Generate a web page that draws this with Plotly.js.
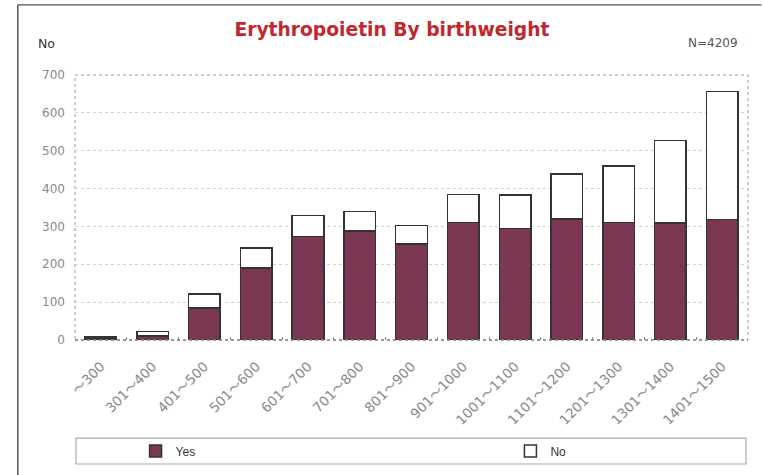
<!DOCTYPE html>
<html>
<head>
<meta charset="utf-8">
<script src="https://cdn.plot.ly/plotly-3.0.1.min.js"></script>
<style>html,body{margin:0;padding:0;background:#fff;}#chart{width:764px;height:475px;}</style>
</head>
<body>
<div id="chart"></div>
<script>
const categories = ["～300","301～400","401～500","501～600","601～700","701～800","801～900","901～1000","1001～1100","1101～1200","1201～1300","1301～1400","1401～1500"];
const yesValues = [5, 11, 84, 190, 274, 288, 253, 311, 294, 319, 311, 309, 318];
const noValues  = [3, 11, 38, 53, 55, 52, 50, 74, 89, 120, 148, 218, 338];
const yTicks = [0, 100, 200, 300, 400, 500, 600, 700];

const barLine = {color: '#333333', width: 1.5};
const traces = [
  {type: 'bar', name: 'Yes', x: categories, y: yesValues, marker: {color: '#7a3652', line: barLine}, width: 0.61, legend: 'legend'},
  {type: 'bar', name: 'No', x: categories, y: noValues, marker: {color: '#ffffff', line: barLine}, width: 0.61, legend: 'legend2'}
];

const legendFont = {family: 'Liberation Sans Narrow, Liberation Sans, sans-serif', size: 12, color: '#333'};
const layout = {
  width: 764, height: 475,
  margin: {l: 75, r: 16, t: 75, b: 135, autoexpand: false},
  paper_bgcolor: '#ffffff', plot_bgcolor: '#ffffff',
  barmode: 'stack',
  showlegend: true,
  font: {family: 'DejaVu Sans, Verdana, sans-serif', size: 11, color: '#777'},
  title: {text: 'Erythropoietin By birthweight', x: 0.513, xanchor: 'center', y: 0.937, yanchor: 'middle',
          font: {family: 'DejaVu Sans, Verdana, sans-serif', size: 18.7, color: '#c0282e', weight: 'bold'}},
  xaxis: {
    type: 'category', tickangle: -45, showgrid: false, zeroline: false, automargin: false,
    ticks: 'inside', tickson: 'boundaries', ticklen: 3, tickcolor: '#888',
    showline: false, ticklabelstandoff: 15,
    tickfont: {family: 'DejaVu Sans, Noto Sans CJK JP, sans-serif', size: 13.5, color: '#888'}
  },
  yaxis: {
    range: [0, 700], tickvals: yTicks, ticks: '', ticklabelstandoff: 9, automargin: false,
    showgrid: true, gridcolor: '#d8d4b0', griddash: 'dot', gridwidth: 1,
    zeroline: false, showline: false,
    tickfont: {family: 'DejaVu Sans, Verdana, sans-serif', size: 12, color: '#888'}
  },
  legend: {
    orientation: 'h', x: 0.09, xanchor: 'left', y: -0.419, yanchor: 'middle',
    bgcolor: 'rgba(0,0,0,0)', borderwidth: 0, font: legendFont,
    itemclick: false, itemdoubleclick: false
  },
  legend2: {
    orientation: 'h', x: 0.647, xanchor: 'left', y: -0.419, yanchor: 'middle',
    bgcolor: 'rgba(0,0,0,0)', borderwidth: 0, font: legendFont,
    itemclick: false, itemdoubleclick: false
  },
  shapes: [
    {type: 'rect', xref: 'paper', yref: 'paper', x0: 0, x1: 1, y0: 0, y1: 1,
     line: {color: '#999', width: 1, dash: 'dot'}, layer: 'below'},
    {type: 'line', xref: 'paper', yref: 'paper', x0: 0, x1: 1, y0: 0, y1: 0,
     line: {color: '#888', width: 1.5, dash: 'dot'}, layer: 'above'},
    {type: 'rect', xref: 'paper', yref: 'paper', x0: 0.0015, x1: 0.997, y0: -0.37, y1: -0.468,
     line: {color: '#aaa', width: 1.2}},
    {type: 'line', xref: 'paper', yref: 'paper', x0: -0.085, x1: -0.085, y0: 1.265, y1: -0.53,
     line: {color: '#555', width: 1.5}},
    {type: 'line', xref: 'paper', yref: 'paper', x0: -0.085, x1: 1.02, y0: 1.265, y1: 1.265,
     line: {color: '#555', width: 1.2}}
  ],
  annotations: [
    {text: 'No', xref: 'paper', yref: 'paper', x: -0.058, y: 1.12, xanchor: 'left', yanchor: 'middle',
     showarrow: false, font: {family: 'DejaVu Sans, Verdana, sans-serif', size: 12.5, color: '#333'}},
    {text: 'N=4209', xref: 'paper', yref: 'paper', x: 0.988, y: 1.12, xanchor: 'right', yanchor: 'middle',
     showarrow: false, font: {family: 'DejaVu Sans, Verdana, sans-serif', size: 12, color: '#555'}}
  ]
};

Plotly.newPlot('chart', traces, layout, {displayModeBar: false, staticPlot: true});
</script>
</body>
</html>
